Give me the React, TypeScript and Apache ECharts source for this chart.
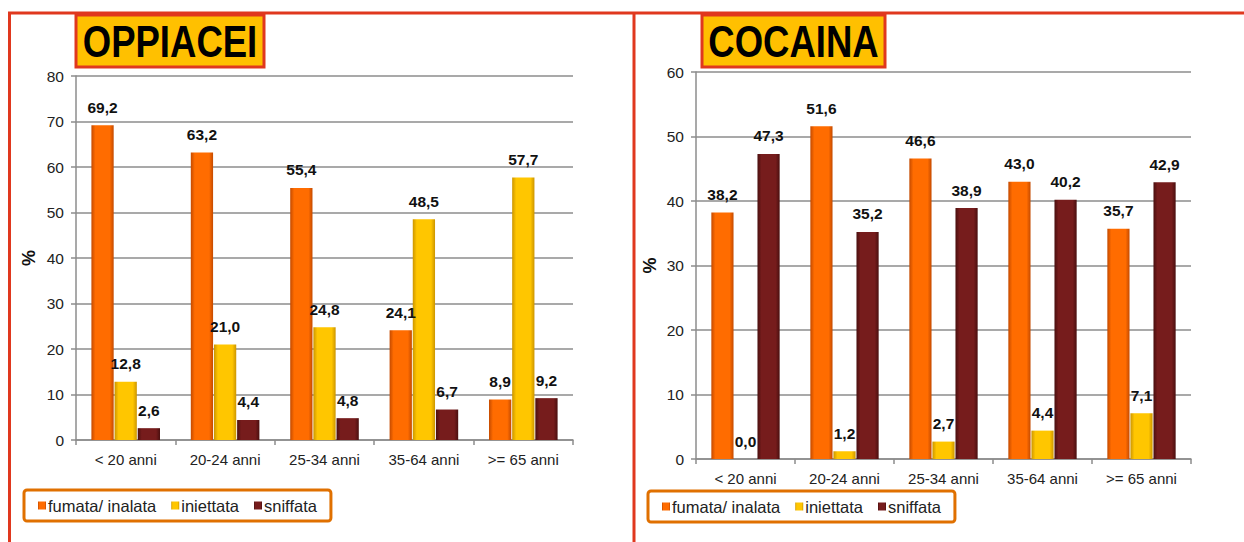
import React, { useEffect, useRef } from "react";
import * as echarts from "echarts";

const categories = ["< 20 anni", "20-24 anni", "25-34 anni", "35-64 anni", ">= 65 anni"];
const seriesNames = ["fumata/ inalata", "iniettata", "sniffata"];

const oppFumata = [69.2, 63.2, 55.4, 24.1, 8.9];
const oppIniettata = [12.8, 21.0, 24.8, 48.5, 57.7];
const oppSniffata = [2.6, 4.4, 4.8, 6.7, 9.2];

const cocFumata = [38.2, 51.6, 46.6, 43.0, 35.7];
const cocIniettata = [0.0, 1.2, 2.7, 4.4, 7.1];
const cocSniffata = [47.3, 35.2, 38.9, 40.2, 42.9];

const FONT = "'Liberation Sans', Arial, sans-serif";

const grad = (edge: string, mid: string) =>
  new echarts.graphic.LinearGradient(0, 0, 1, 0, [
    { offset: 0, color: edge },
    { offset: 0.18, color: mid },
    { offset: 0.82, color: mid },
    { offset: 1, color: edge },
  ]);

const colors = [
  () => grad("#C44A00", "#FF6C00"),
  () => grad("#CC9500", "#FFC600"),
  () => grad("#4A0F0F", "#761C1C"),
];

const fmt = (p: any) => Number(p.value).toFixed(1).replace(".", ",");

function makeSeries(data: number[][], gridIdx: number) {
  return data.map((d, i) => ({
    name: seriesNames[i],
    type: "bar",
    xAxisIndex: gridIdx,
    yAxisIndex: gridIdx,
    data: d,
    barGap: "4%",
    barCategoryGap: "31%",
    itemStyle: { color: colors[i]() },
    label: {
      show: true,
      position: "top",
      distance: 10,
      formatter: fmt,
      fontFamily: FONT,
      fontWeight: "bold",
      fontSize: 15.5,
      color: "#111",
    },
  }));
}

const axisColor = "#8C8C8C";

function yAxis(gridIndex: number, max: number, nameGap: number) {
  return {
    type: "value",
    gridIndex,
    min: 0,
    max,
    interval: 10,
    name: "%",
    nameLocation: "middle",
    nameRotate: 90,
    nameGap,
    nameTextStyle: { fontFamily: FONT, fontWeight: "bold", fontSize: 18, color: "#111" },
    axisLine: { show: true, lineStyle: { color: axisColor, width: 1.5 } },
    axisTick: { show: true, length: 5, lineStyle: { color: axisColor, width: 1.5 } },
    axisLabel: { fontFamily: FONT, fontSize: 15.5, color: "#222", margin: 12 },
    splitLine: { show: true, lineStyle: { color: axisColor, width: 1.5 } },
  };
}

function xAxis(gridIndex: number) {
  return {
    type: "category",
    gridIndex,
    data: categories,
    axisLine: { show: true, lineStyle: { color: axisColor, width: 1.5 } },
    axisTick: { show: true, length: 5, lineStyle: { color: axisColor, width: 1.5 } },
    axisLabel: { fontFamily: FONT, fontSize: 15, color: "#222", margin: 12 },
  };
}

function legend(left: number, top: number) {
  return {
    left,
    top,
    data: seriesNames,
    icon: "rect",
    itemWidth: 8,
    itemHeight: 8,
    itemGap: 15,
    borderColor: "#E07000",
    borderWidth: 3,
    borderRadius: 3,
    padding: [7, 14, 7, 14],
    textStyle: { fontFamily: FONT, fontSize: 16.5, color: "#222", padding: [0, 0, 0, -3] },
  };
}

function titleBox(x: number, w: number, text: string) {
  return {
    type: "group",
    children: [
      {
        type: "rect",
        shape: { x, y: 15, width: w, height: 52 },
        style: { fill: "#FFC000", stroke: "#E0381E", lineWidth: 3 },
      },
      {
        type: "text",
        x: x + w / 2,
        y: 42,
        scaleX: 0.83,
        style: {
          text,
          fontFamily: FONT,
          fontWeight: "bold",
          fontSize: 44,
          fill: "#000",
          align: "center",
          verticalAlign: "middle",
        },
      },
    ],
  };
}

export default function App() {
  const ref = useRef<HTMLDivElement>(null);
  useEffect(() => {
    if (!ref.current) return;
    const chart = echarts.init(ref.current, undefined, { renderer: "svg" });
    chart.setOption({
      animation: false,
      backgroundColor: "#fff",
      grid: [
        { left: 76, top: 76, width: 497, height: 364 },
        { left: 696, top: 72, width: 495, height: 387 },
      ],
      xAxis: [xAxis(0), xAxis(1)],
      yAxis: [yAxis(0, 80, 38), yAxis(1, 60, 37)],
      legend: [legend(24, 490), legend(648, 491)],
      series: [
        ...makeSeries([oppFumata, oppIniettata, oppSniffata], 0),
        ...makeSeries([cocFumata, cocIniettata, cocSniffata], 1),
      ],
      graphic: [
        { type: "line", shape: { x1: 8, y1: 13, x2: 1244, y2: 13 }, style: { stroke: "#E0381E", lineWidth: 3 } },
        { type: "line", shape: { x1: 9.5, y1: 13, x2: 9.5, y2: 542 }, style: { stroke: "#E0381E", lineWidth: 3 } },
        { type: "line", shape: { x1: 634, y1: 13, x2: 634, y2: 542 }, style: { stroke: "#E0381E", lineWidth: 3 } },
        titleBox(76, 188, "OPPIACEI"),
        titleBox(702, 183, "COCAINA"),
      ],
    });
    return () => chart.dispose();
  }, []);
  return (
    <div
      ref={ref}
      style={{ position: "fixed", left: 0, top: 0, width: 1244, height: 542 }}
    />
  );
}
